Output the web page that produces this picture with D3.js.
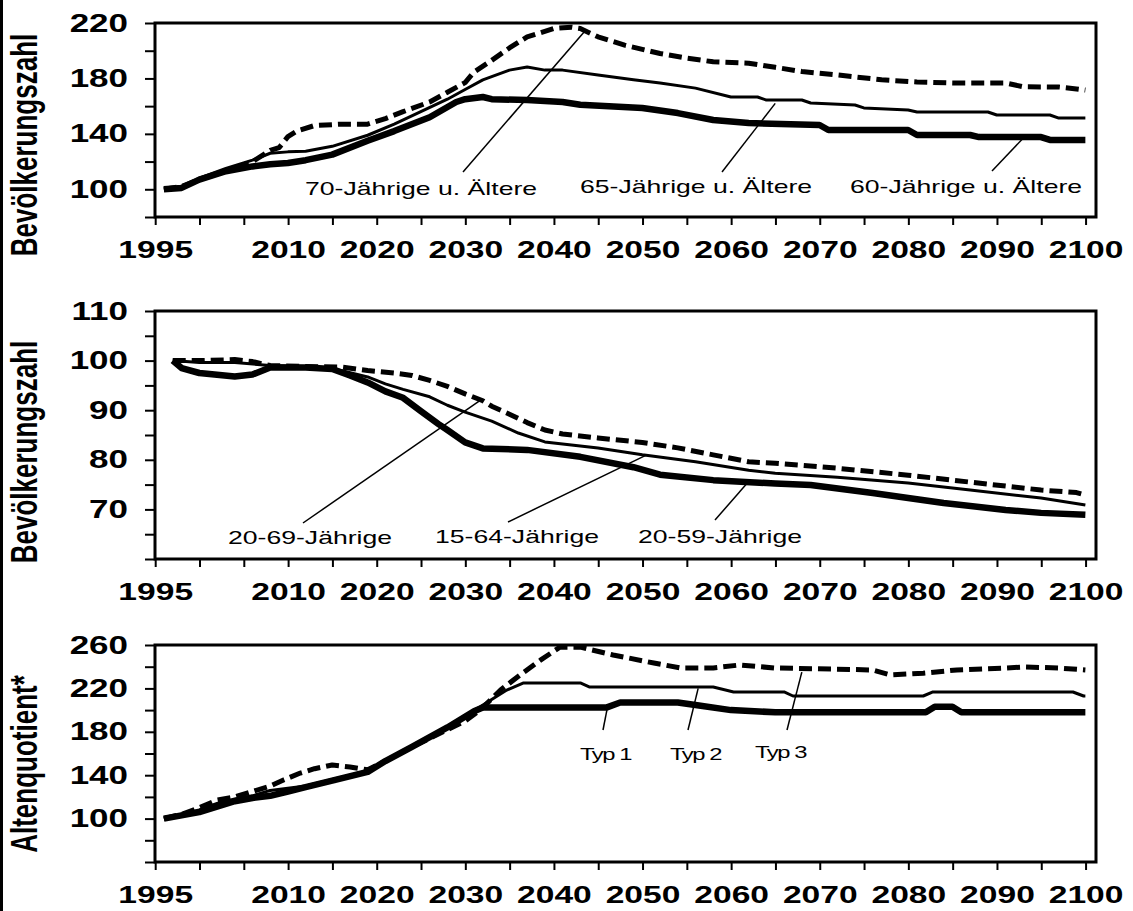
<!DOCTYPE html>
<html>
<head>
<meta charset="utf-8">
<script src="https://cdn.jsdelivr.net/npm/d3@7"></script>
<style>
  body { margin: 0; background: #fff; }
  svg { display: block; }
  text { font-family: "Liberation Sans", Arial, Helvetica, sans-serif; fill: #000; }
</style>
</head>
<body>
<svg id="chart" width="1133" height="911"></svg>
<script>
// ---------- data ----------
// x axis: ticks every 5 years, labels only where printed
const yearTickValues = d3.range(1995, 2101, 5);
const yearLabels = [1995, 2010, 2020, 2030, 2040, 2050, 2060, 2070, 2080, 2090, 2100];

// top panel: population aged 60+/65+/70+ (index, start = 100)
const labelsTop = [100, 140, 180, 220];
const aged60 = [[1996,100],[1998,101],[2000,107],[2003,113],[2006,116.5],[2008,118],[2010,119],[2012,121],[2015,125],[2019,135],[2022,142],[2026,152],[2029,163],[2030,165],[2032,166.6],[2033,165],[2037,164.4],[2041,163],[2043,161],[2050,158.7],[2054,155],[2058,150],[2062,147.8],[2070,146.4],[2071,142.8],[2080,142.8],[2081,139.2],[2087,139.2],[2088,137.7],[2095,137.7],[2096,135.6],[2100,135.6]];
const aged65 = [[1996,100],[1998,101.5],[2000,108],[2003,115],[2006,121],[2008,126],[2010,127],[2012,127.5],[2015,131],[2019,139],[2022,147],[2025,156],[2028,165],[2030,172],[2032,179],[2035,186],[2037,188.3],[2039,186],[2041,186],[2045,182.5],[2049,179],[2052,176.7],[2056,173],[2060,166.6],[2063,166.6],[2064,164.4],[2068,164.4],[2069,162.3],[2074,160.8],[2075,158.7],[2080,157.2],[2081,155.8],[2089,155.8],[2090,153.6],[2096,153.6],[2097,151.4],[2100,151.4]];
const aged70 = [[1996,100],[1998,102],[2000,107],[2003,113],[2006,120],[2008,128],[2009,130],[2010,138],[2011,142],[2013,146],[2016,147],[2019,147],[2021,151],[2023,156],[2026,163],[2028,170],[2030,177],[2031,184.6],[2033,193],[2035,202],[2037,210],[2040,216],[2042,217],[2043,216],[2045,210],[2048,204],[2052,198],[2055,194.7],[2058,192],[2062,191],[2065,188],[2068,185],[2072,182.5],[2077,179],[2081,177.4],[2085,176.7],[2091,176.7],[2093,174],[2097,173.8],[2099,172.4],[2100,171.6]];

// middle panel: working-age population (index, start = 100)
const labelsMid = [70, 80, 90, 100, 110];
const age20to59 = [[1997,100],[1998,98.5],[2000,97.5],[2004,96.8],[2006,97.2],[2008,98.6],[2012,98.6],[2015,98.3],[2017,97],[2019,95.6],[2021,93.8],[2023,92.5],[2025,89.8],[2027,87.2],[2028,86],[2030,83.5],[2032,82.3],[2037,82],[2043,80.6],[2049,78.5],[2052,77],[2058,75.9],[2065,75.2],[2069,74.9],[2076,73.3],[2084,71.3],[2091,69.9],[2095,69.3],[2100,68.9]];
const age15to64 = [[1997,100],[2000,99.6],[2004,99.6],[2008,99],[2012,98.8],[2016,98],[2019,96.7],[2021,95.3],[2023,94.2],[2026,92.7],[2028,91],[2030,89.6],[2033,87.8],[2036,85.4],[2039,83.6],[2045,82.4],[2050,81],[2056,79.6],[2062,77.9],[2065,77.3],[2072,76.5],[2080,75.3],[2087,73.9],[2095,72.3],[2100,70.9]];
const age20to69 = [[1997,100],[2000,100],[2004,100.2],[2006,99.8],[2008,99],[2012,98.8],[2016,98.7],[2019,98],[2022,97.5],[2024,97],[2026,96],[2028,94.8],[2030,93.3],[2032,91.9],[2033,90.8],[2035,89.2],[2037,87.5],[2039,86],[2041,85.2],[2045,84.4],[2050,83.5],[2054,82.4],[2058,81],[2062,79.6],[2065,79.3],[2072,78.3],[2080,76.9],[2087,75.5],[2095,73.9],[2099,73.4],[2100,72.9]];

// bottom panel: old-age dependency ratio, three types (index, start = 100)
const labelsBottom = [100, 140, 180, 220, 260];
const ratioTyp1 = [[1996,100],[1998,103],[2000,106],[2002,111],[2004,116],[2006,119],[2008,121],[2010,125],[2012,129],[2015,135],[2019,143],[2021,153],[2024,166],[2028,184],[2031,199],[2032,202.5],[2046,202.5],[2047.5,207],[2054,207],[2056,204.7],[2060,200],[2065,198],[2082,198],[2083,203],[2085,203],[2086,198],[2100,198]];
const ratioTyp2 = [[1996,100],[1998,104],[2000,108],[2002,114],[2004,118],[2006,121],[2008,126],[2010,128],[2012,130],[2015,136],[2019,144],[2021,154],[2024,167],[2028,185],[2031.7,203],[2034.7,218.5],[2036.6,225],[2043,225],[2044,221.3],[2058,221.3],[2060.3,216.7],[2066,216.7],[2067,213],[2081.7,213],[2082.8,216.7],[2098.6,216.7],[2099.8,213],[2100,213]];
const ratioTyp3 = [[1996,100],[1998,104],[2000,110],[2002,117],[2004,120],[2006,125],[2008,130],[2009.5,135.6],[2011.4,142],[2013,146],[2015,149.4],[2017,147.6],[2019,145],[2021,153],[2024,166],[2028,182],[2030,190],[2031.7,200],[2034,218.5],[2036.2,232.4],[2038.5,246],[2040.7,258],[2043,258],[2046.7,250.8],[2051.3,243.4],[2054.3,238.8],[2058,238.8],[2061,241.6],[2065,238.8],[2076,237],[2078,232.4],[2081.7,234],[2085.5,237],[2091,238.8],[2093,239.7],[2097,238.8],[2100,237]];

// ---------- layout ----------
const S = 1.4;                 // horizontal stretch of the whole figure
const px = v => v / S;         // screen x -> drawing units
const FRAME_L = 155, FRAME_R = 1096;

const lineStyles = {
  thick:  { width: 6.5, dash: null },
  thin:   { width: 3,   dash: null },
  dashed: { width: 5,   dash: "13,6" }
};

const panels = [
  { top: 23, bottom: 217, domain: [80, 220], step: 20, labels: labelsTop,
    title: "Bevölkerungszahl", titleY: 145,
    series: [[aged60, "thick"], [aged65, "thin"], [aged70, "dashed"]],
    notes: [
      { text: "70-Jährige u. Ältere", x: 305, y: 195, from: [463, 172], to: [2043.5, 214], size: 19 },
      { text: "65-Jährige u. Ältere", x: 580, y: 193, from: [722, 172], to: [2065, 162], size: 19 },
      { text: "60-Jährige u. Ältere", x: 850, y: 193, from: [992, 171], to: [2093, 137], size: 19 }
    ] },
  { top: 311, bottom: 559, domain: [60, 110], step: 5, labels: labelsMid,
    title: "Bevölkerungszahl", titleY: 452,
    series: [[age20to59, "thick"], [age15to64, "thin"], [age20to69, "dashed"]],
    notes: [
      { text: "20-69-Jährige", x: 228, y: 544, from: [303, 523], to: [2031.7, 92], size: 19 },
      { text: "15-64-Jährige", x: 435, y: 543, from: [508, 522], to: [2050.5, 81], size: 19 },
      { text: "20-59-Jährige", x: 638, y: 543, from: [715, 520], to: [2061.8, 75.2], size: 19 }
    ] },
  { top: 645, bottom: 862, domain: [60, 260], step: 20, labels: labelsBottom,
    title: "Altenquotient*", titleY: 764,
    series: [[ratioTyp1, "thick"], [ratioTyp2, "thin"], [ratioTyp3, "dashed"]],
    notes: [
      { text: "Typ 1", x: 580, y: 760, from: [603, 730], to: [2046, 200], size: 17, spacing: -1 },
      { text: "Typ 2", x: 670, y: 760, from: [688, 730], to: [2056.3, 220], size: 17, spacing: -1 },
      { text: "Typ 3", x: 755, y: 758, from: [787, 730], to: [2068, 235], size: 17, spacing: -1 }
    ] }
];

// ---------- drawing ----------
const svg = d3.select("#chart");
svg.append("rect").attr("width", 1133).attr("height", 911).attr("fill", "#fff");

const root = svg.append("g").attr("transform", `scale(${S},1)`);

// figure border on the left edge
root.append("line")
  .attr("x1", px(1.5)).attr("x2", px(1.5)).attr("y1", 0).attr("y2", 911)
  .attr("stroke", "#000").attr("stroke-width", 3)
  .attr("vector-effect", "non-scaling-stroke");

const x = d3.scaleLinear().domain([1995, 2101.2]).range([px(FRAME_L), px(FRAME_R)]);

panels.forEach(p => {
  const g = root.append("g");
  const y = d3.scaleLinear().domain(p.domain).range([p.bottom, p.top]);

  // y axis
  const yAxis = d3.axisLeft(y)
    .tickValues(d3.range(p.domain[0], p.domain[1] + 0.001, p.step))
    .tickSize(px(10))
    .tickPadding(px(17))
    .tickFormat(d => p.labels.includes(d) ? d : "");
  const ya = g.append("g").attr("transform", `translate(${px(FRAME_L)},0)`).call(yAxis);
  ya.select(".domain").remove();
  ya.selectAll(".tick line").attr("stroke", "#000").attr("stroke-width", 2)
    .attr("vector-effect", "non-scaling-stroke");
  ya.selectAll(".tick text")
    .attr("font-family", "'Liberation Sans', Arial, sans-serif")
    .attr("font-weight", "bold").attr("font-size", 25).attr("fill", "#000");

  // x axis
  const xAxis = d3.axisBottom(x)
    .tickValues(yearTickValues)
    .tickSize(8)
    .tickPadding(16)
    .tickFormat(d => yearLabels.includes(d) ? d : "");
  const xa = g.append("g").attr("transform", `translate(0,${p.bottom})`).call(xAxis);
  xa.select(".domain").remove();
  xa.selectAll(".tick line").attr("stroke", "#000").attr("stroke-width", 2)
    .attr("vector-effect", "non-scaling-stroke");
  xa.selectAll(".tick text")
    .attr("font-family", "'Liberation Sans', Arial, sans-serif")
    .attr("font-weight", "bold").attr("font-size", 24).attr("fill", "#000");

  // axis title
  g.append("text")
    .attr("transform", `translate(${px(37)},${p.titleY}) rotate(-90)`)
    .attr("text-anchor", "middle")
    .attr("font-weight", "bold").attr("font-size", 26)
    .text(p.title);

  // plot frame
  g.append("rect")
    .attr("x", px(FRAME_L)).attr("y", p.top)
    .attr("width", px(FRAME_R) - px(FRAME_L)).attr("height", p.bottom - p.top)
    .attr("fill", "none").attr("stroke", "#000").attr("stroke-width", 3)
    .attr("vector-effect", "non-scaling-stroke");

  // series
  const line = d3.line().x(d => x(d[0])).y(d => y(d[1]));
  p.series.forEach(([data, style]) => {
    const st = lineStyles[style];
    g.append("path")
      .datum(data)
      .attr("d", line)
      .attr("fill", "none")
      .attr("stroke", "#000")
      .attr("stroke-width", st.width)
      .attr("stroke-dasharray", st.dash)
      .attr("stroke-linejoin", "round")
      .attr("vector-effect", "non-scaling-stroke");
  });

  // labels with leader lines
  p.notes.forEach(n => {
    g.append("line")
      .attr("x1", px(n.from[0])).attr("y1", n.from[1])
      .attr("x2", x(n.to[0])).attr("y2", y(n.to[1]))
      .attr("stroke", "#000").attr("stroke-width", 1.5)
      .attr("vector-effect", "non-scaling-stroke");
    g.append("text")
      .attr("x", px(n.x)).attr("y", n.y)
      .attr("font-size", n.size)
      .attr("letter-spacing", n.spacing || 0)
      .text(n.text);
  });
});
</script>
</body>
</html>
